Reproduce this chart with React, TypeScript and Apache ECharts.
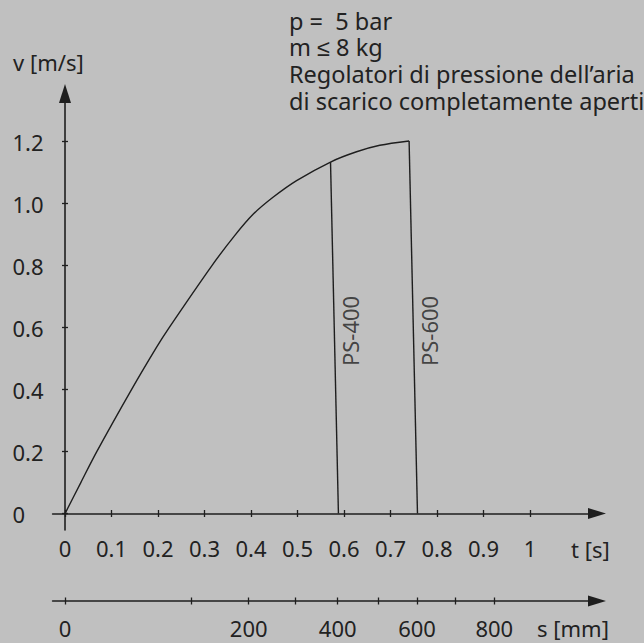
import React, { useEffect, useRef } from "react";
import * as echarts from "echarts";

// ---- data ----
const curveT = [0, 0.034, 0.068, 0.143, 0.197, 0.224, 0.316, 0.364, 0.405, 0.448, 0.498, 0.571, 0.627, 0.677, 0.74];
const curveV = [0, 0.1, 0.199, 0.4, 0.537, 0.6, 0.8, 0.895, 0.966, 1.021, 1.074, 1.134, 1.167, 1.188, 1.202];

const ps400T = [0.571, 0.588];
const ps400V = [1.134, 0];
const ps600T = [0.74, 0.758];
const ps600V = [1.202, 0];

const tTicks = [0, 0.1, 0.2, 0.3, 0.4, 0.5, 0.6, 0.7, 0.8, 0.9, 1];
const vTicks = [0, 0.2, 0.4, 0.6, 0.8, 1.0, 1.2];
const sTicksMm = [0, 100, 200, 300, 400, 500, 600, 700, 800];
const sTicksT = [0, 0.2725, 0.395, 0.4946, 0.5865, 0.6738, 0.757, 0.8402, 0.9232];
const sLabelMm = [0, 200, 400, 600, 800];

const noteLines = [
  "p =  5 bar",
  "m \u2264 8 kg",
  "Regolatori di pressione dell\u2019aria",
  "di scarico completamente aperti",
];

// ---- style / layout ----
const FONT = "'Noto Sans', sans-serif";
const INK = "#222222";
const LINE = "#1e1e1e";
const BG = "#c0c0c0";

const tMin = -0.0267;
const tMax = 1.1441;
const vMin = -0.053;
const vMax = 1.355;

const zip = (a: number[], b: number[]) => a.map((x, i) => [x, b[i]]);
const tAtV = (ts: number[], vs: number[], v: number) =>
  ts[0] + ((vs[0] - v) / (vs[0] - vs[1])) * (ts[1] - ts[0]);

export default function App() {
  const ref = useRef<HTMLDivElement>(null);

  useEffect(() => {
    if (!ref.current) return;
    const chart = echarts.init(ref.current, undefined, { renderer: "svg" });

    const labelV = 0.589;
    const lineStyle = { color: LINE, width: 1.6 };
    const tickStyle = { color: LINE, width: 1.3 };
    const sOffset = 71;
    const hTick = 3.5; // half tick length, x axes
    const vTick = 3; // half tick length, y axis
    const hidden = { show: false };

    // grid 0: data area; grid 1: t axis sits on v = 0; grid 2: v axis sits on t = 0
    const plotLeft = 52.6;
    const plotRight = 47;
    const plotTop = 93.5;
    const plotBottom = 113;
    const zeroRowFromBottom = 129.5; // 643 - y(v=0)
    const zeroColFromLeft = 65; // x(t=0)

    const tAxisBase = {
      type: "value",
      min: tMin,
      max: tMax,
      position: "bottom",
      splitLine: { show: false },
    };
    const vAxisBase = {
      type: "value",
      min: vMin,
      max: vMax,
      position: "left",
      splitLine: { show: false },
    };

    const sFromT = (t: number) => {
      let best = 0;
      sTicksT.forEach((x, i) => {
        if (Math.abs(x - t) < Math.abs(sTicksT[best] - t)) best = i;
      });
      return String(sTicksMm[best]);
    };

    const option: any = {
      animation: false,
      backgroundColor: BG,
      grid: [
        { left: plotLeft, right: plotRight, top: plotTop, bottom: plotBottom, containLabel: false, outerBoundsMode: "none" },
        { left: plotLeft, right: plotRight, top: plotTop, bottom: zeroRowFromBottom, containLabel: false, outerBoundsMode: "none" },
        { left: zeroColFromLeft, right: plotRight, top: plotTop, bottom: plotBottom, containLabel: false, outerBoundsMode: "none" },
      ],
      xAxis: [
        // 0: data x (hidden)
        { ...tAxisBase, gridIndex: 0, show: false },
        // 1: t axis line + labels
        {
          ...tAxisBase,
          gridIndex: 1,
          axisLine: {
            onZero: false,
            lineStyle,
            symbol: ["none", "triangle"],
            symbolSize: [11, 18],
          },
          axisTick: { show: false },
          axisLabel: {
            customValues: tTicks,
            formatter: (v: number) => String(v),
            margin: 23.3,
            color: INK,
            fontFamily: FONT,
            fontSize: 22,
          },
        },
        // 2: t axis ticks crossing the line
        {
          ...tAxisBase,
          gridIndex: 1,
          offset: hTick,
          axisLine: { show: false, onZero: false },
          axisTick: { show: true, inside: true, customValues: tTicks, length: 2 * hTick, lineStyle: tickStyle },
          axisLabel: hidden,
        },
        // 3: s axis line + labels
        {
          ...tAxisBase,
          gridIndex: 0,
          offset: sOffset,
          axisLine: {
            onZero: false,
            lineStyle,
            symbol: ["none", "triangle"],
            symbolSize: [11, 18],
          },
          axisTick: { show: false },
          axisLabel: {
            customValues: sLabelMm.map((s) => sTicksT[sTicksMm.indexOf(s)]),
            formatter: (t: number) => sFromT(t),
            margin: 16,
            lineHeight: 22,
            color: INK,
            fontFamily: FONT,
            fontSize: 22,
          },
        },
        // 4: s axis ticks crossing the line
        {
          ...tAxisBase,
          gridIndex: 0,
          offset: sOffset + hTick,
          axisLine: { show: false, onZero: false },
          axisTick: { show: true, inside: true, customValues: sTicksT, length: 2 * hTick, lineStyle: tickStyle },
          axisLabel: hidden,
        },
        // 5: helper x for grid 2 (hidden)
        { type: "value", gridIndex: 2, min: 0, max: 1, show: false },
      ],
      yAxis: [
        // 0: data y (hidden)
        { ...vAxisBase, gridIndex: 0, show: false },
        // 1: helper y for grid 1 (hidden)
        { type: "value", gridIndex: 1, min: 0, max: 1, show: false },
        // 2: v axis line + labels
        {
          ...vAxisBase,
          gridIndex: 2,
          axisLine: {
            onZero: false,
            lineStyle,
            symbol: ["none", "triangle"],
            symbolSize: [12, 19],
          },
          axisTick: { show: false },
          axisLabel: {
            customValues: vTicks,
            formatter: (v: number) => (v === 0 ? "0" : v.toFixed(1)),
            align: "left",
            margin: 52.5,
            color: INK,
            fontFamily: FONT,
            fontSize: 22,
          },
        },
        // 3: v axis ticks crossing the line
        {
          ...vAxisBase,
          gridIndex: 2,
          offset: vTick,
          axisLine: { show: false, onZero: false },
          axisTick: { show: true, inside: true, customValues: vTicks, length: 2 * vTick, lineStyle: tickStyle },
          axisLabel: hidden,
        },
      ],
      series: [
        {
          type: "line",
          name: "curve",
          xAxisIndex: 0,
          yAxisIndex: 0,
          data: zip(curveT, curveV),
          smooth: 0.3,
          showSymbol: false,
          lineStyle: { color: LINE, width: 1.4 },
          silent: true,
        },
        {
          type: "line",
          name: "PS-400",
          xAxisIndex: 0,
          yAxisIndex: 0,
          data: zip(ps400T, ps400V),
          showSymbol: false,
          lineStyle: { color: LINE, width: 1.4 },
          silent: true,
        },
        {
          type: "line",
          name: "PS-600",
          xAxisIndex: 0,
          yAxisIndex: 0,
          data: zip(ps600T, ps600V),
          showSymbol: false,
          lineStyle: { color: LINE, width: 1.4 },
          silent: true,
        },
        {
          type: "scatter",
          xAxisIndex: 0,
          yAxisIndex: 0,
          symbolSize: 0,
          silent: true,
          data: [
            { name: "PS-400", value: [tAtV(ps400T, ps400V, labelV), labelV] },
            { name: "PS-600", value: [tAtV(ps600T, ps600V, labelV), labelV] },
          ],
          label: {
            show: true,
            position: "inside",
            formatter: (p: any) => p.name,
            rotate: 90,
            offset: [0, 16],
            color: INK,
            fontFamily: FONT,
            fontSize: 22,
          },
        },
      ],
      graphic: [
        {
          type: "text",
          x: 13,
          y: 61.5,
          style: { text: "v [m/s]", fill: INK, font: `22px ${FONT}`, align: "left", verticalAlign: "middle" },
        },
        {
          type: "text",
          x: 571,
          y: 548.8,
          style: { text: "t [s]", fill: INK, font: `22px ${FONT}`, align: "left", verticalAlign: "middle" },
        },
        {
          type: "text",
          x: 537,
          y: 628,
          style: {
            text: "s [mm]",
            fill: INK,
            font: `22px ${FONT}`,
            lineHeight: 22,
            align: "left",
            verticalAlign: "middle",
          },
        },
        {
          type: "text",
          x: 289,
          y: 7.2,
          style: {
            text: noteLines.join("\n"),
            fill: INK,
            font: `23.5px ${FONT}`,
            lineHeight: 26.8,
            align: "left",
            verticalAlign: "top",
          },
        },
      ],
    };

    chart.setOption(option);
    return () => chart.dispose();
  }, []);

  return (
    <div
      ref={ref}
      style={{ position: "absolute", left: 0, top: 0, width: 644, height: 643 }}
    />
  );
}
